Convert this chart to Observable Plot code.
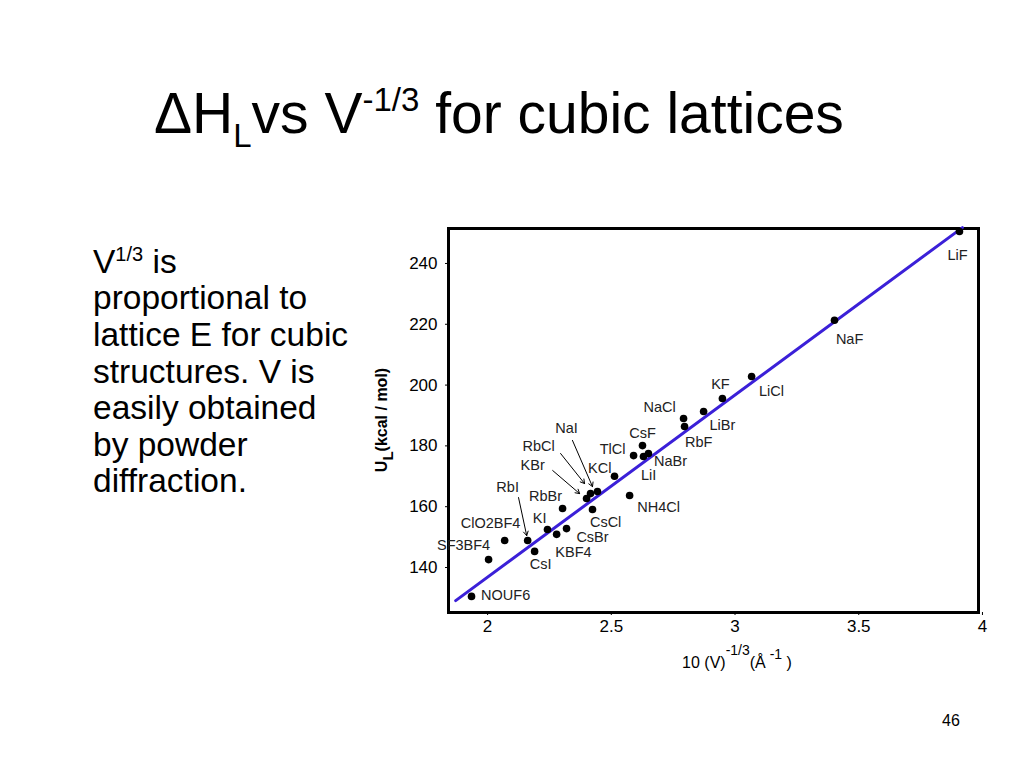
<!DOCTYPE html>
<html>
<head>
<meta charset="utf-8">
<script src="https://cdn.jsdelivr.net/npm/d3@7"></script>
<script src="https://cdn.jsdelivr.net/npm/@observablehq/plot@0.6"></script>
<style>
  html, body { margin: 0; padding: 0; background: #fff; }
  #page { position: relative; width: 1024px; height: 768px; overflow: hidden; font-family: "Liberation Sans", Arial, sans-serif; }
  #bg { position: absolute; left: 0; top: 0; }
  #chart { position: absolute; left: 370px; top: 215px; }
</style>
</head>
<body>
<div id="page">
  <svg id="bg" width="1024" height="768" font-family="Liberation Sans, Arial, sans-serif">
    <text x="154" y="133" font-size="57" fill="#000">ΔH<tspan font-size="33" dy="14">L</tspan><tspan dy="-14">vs V</tspan><tspan font-size="33" dy="-22">-1/3</tspan><tspan dy="22"> for cubic lattices</tspan></text>
    <g font-size="33.5" fill="#000">
      <text x="93" y="273">V<tspan font-size="20" dy="-12">1/3</tspan><tspan dy="12"> is</tspan></text>
      <text x="93" y="309">proportional to</text>
      <text x="93" y="346">lattice E for cubic</text>
      <text x="93" y="383">structures. V is</text>
      <text x="93" y="419">easily obtained</text>
      <text x="93" y="456">by powder</text>
      <text x="93" y="492">diffraction.</text>
    </g>
    <text x="951" y="726" font-size="16" text-anchor="middle" fill="#000">46</text>
  </svg>
  <div id="chart"></div>
</div>
<script>
// Compounds, x = 10·V^(-1/3) (Å^-1), y = U_L (kcal/mol)
const names = ["LiF","NaF","LiCl","KF","LiBr","NaCl","RbF","CsF","TlCl","NaBr","LiI","KCl","NaI","RbCl","KBr","NH4Cl","CsCl","RbBr","KI","CsBr","KBF4","RbI","ClO2BF4","CsI","SF3BF4","NOUF6"];
const xs = [3.907,3.402,3.067,2.949,2.873,2.792,2.796,2.626,2.590,2.650,2.630,2.513,2.444,2.416,2.400,2.574,2.424,2.303,2.242,2.319,2.279,2.162,2.069,2.190,2.004,1.935];
const ys = [250.5,221.3,202.8,195.6,191.3,189.0,186.4,180.1,176.8,177.5,176.5,170.0,165.0,164.3,162.7,163.7,159.1,159.4,152.5,152.8,150.9,148.9,148.9,145.3,142.6,130.5];
// label anchor points (data units)
const labX = [3.899,3.463,3.147,2.941,2.949,2.695,2.853,2.626,2.505,2.739,2.651,2.453,2.319,2.206,2.182,2.691,2.477,2.234,2.210,2.424,2.347,2.081,2.012,2.214,1.903,2.073];
const labY = [242.6,215.0,197.9,200.2,186.7,192.6,181.1,184.1,178.8,174.9,170.3,172.6,185.7,179.8,173.6,159.7,154.8,163.4,156.1,149.9,144.9,166.3,154.5,141.0,147.2,130.8];
// fitted line endpoints
const lineX = [1.871, 3.919];
const lineY = [129.1, 251.8];
// leader arrows: label -> point
const arrowName = ["NaI","RbCl","KBr","RbI"];
const arrowX1 = [2.343, 2.295, 2.263, 2.125];
const arrowY1 = [181.8, 177.5, 171.9, 163.0];
const arrowX2 = [2.424, 2.392, 2.372, 2.158];
const arrowY2 = [166.6, 167.6, 164.3, 150.5];
// axis ticks
const xTicks = [2, 2.5, 3, 3.5, 4];
const yTicks = [140, 160, 180, 200, 220, 240];

const pts = names.map((n, i) => ({name: n, x: xs[i], y: ys[i], lx: labX[i], ly: labY[i]}));
const fit = lineX.map((x, i) => ({x, y: lineY[i]}));
const arrows = arrowName.map((n, i) => ({name: n, x1: arrowX1[i], y1: arrowY1[i], x2: arrowX2[i], y2: arrowY2[i]}));

const chart = Plot.plot({
  width: 630,
  height: 460,
  marginLeft: 78,
  marginRight: 22,
  marginTop: 13,
  marginBottom: 63,
  style: {fontFamily: "Liberation Sans, Arial, sans-serif", color: "#000", background: "transparent", overflow: "visible"},
  x: {domain: [1.842, 3.984]},
  y: {domain: [125.2, 251.5]},
  marks: [
    Plot.axisX({ticks: xTicks, tickFormat: d => String(d), tickSize: 3, tickPadding: 4, fontSize: 17, label: null}),
    Plot.axisY({ticks: yTicks, tickSize: 3, tickPadding: 8, fontSize: 17, label: null}),
    Plot.frame({stroke: "#000", strokeWidth: 3}),
    Plot.line(fit, {x: "x", y: "y", stroke: "#3b20d8", strokeWidth: 3}),
    Plot.dot(pts, {x: "x", y: "y", r: 3.8, fill: "#000"}),
    Plot.arrow(arrows, {x1: "x1", y1: "y1", x2: "x2", y2: "y2", stroke: "#000", strokeWidth: 1, headLength: 7, insetStart: 0, insetEnd: 0}),
    Plot.text(pts, {x: "lx", y: "ly", text: "name", fill: "#222", fontSize: 14.5, textAnchor: "middle", lineAnchor: "middle"})
  ]
});
document.getElementById("chart").appendChild(chart);

const svg = d3.select(chart);
// y-axis title U_L (kcal / mol)
const yl = svg.append("text")
  .attr("transform", "translate(17,205) rotate(-90)")
  .attr("text-anchor", "middle")
  .attr("font-size", 16)
  .attr("font-weight", "bold")
  .attr("fill", "#000");
yl.append("tspan").text("U");
yl.append("tspan").attr("dy", 6).attr("font-size", 15).text("L");
yl.append("tspan").attr("dy", -6).text("(kcal / mol)");
// x-axis title 10 (V)^-1/3 (Å^-1 )
const xl = svg.append("text")
  .attr("x", 367).attr("y", 453)
  .attr("text-anchor", "middle")
  .attr("font-size", 16)
  .attr("fill", "#000");
xl.append("tspan").text("10 (V)");
xl.append("tspan").attr("dy", -13).attr("font-size", 14).text("-1/3");
xl.append("tspan").attr("dy", 13).text("(Å");
xl.append("tspan").attr("dy", -9).attr("font-size", 14).text(" -1");
xl.append("tspan").attr("dy", 9).text(" )");
</script>
</body>
</html>
